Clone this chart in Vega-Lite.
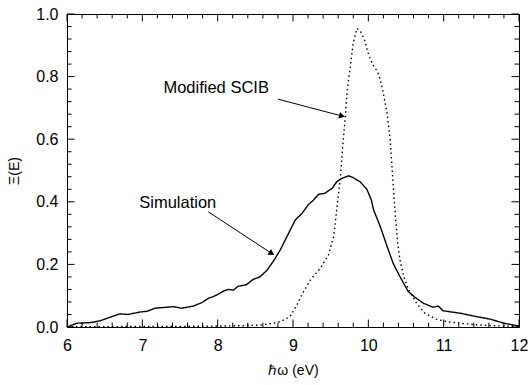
{
  "$schema": "https://vega.github.io/schema/vega-lite/v6.json",
  "width": 452,
  "height": 313,
  "autosize": {"type": "none"},
  "padding": {"left": 67, "top": 14, "right": 9, "bottom": 58},
  "config": {
    "font": "Liberation Sans",
    "view": {"stroke": "black", "strokeWidth": 1},
    "axis": {
      "grid": false,
      "domain": false,
      "ticks": false,
      "labelColor": "black",
      "titleColor": "black",
      "labelFontSize": 16,
      "titleFontSize": 14,
      "titleFontWeight": "normal",
      "labelFont": "Liberation Sans",
      "titleFont": "Liberation Sans"
    }
  },
  "datasets": {
    "curves": [
      {"series": "Simulation", "x": 6.0, "y": 0.0},
      {"series": "Simulation", "x": 6.13, "y": 0.012},
      {"series": "Simulation", "x": 6.31, "y": 0.014},
      {"series": "Simulation", "x": 6.44, "y": 0.02},
      {"series": "Simulation", "x": 6.57, "y": 0.031},
      {"series": "Simulation", "x": 6.7, "y": 0.042},
      {"series": "Simulation", "x": 6.81, "y": 0.04},
      {"series": "Simulation", "x": 6.97, "y": 0.048},
      {"series": "Simulation", "x": 7.06, "y": 0.05},
      {"series": "Simulation", "x": 7.17, "y": 0.06},
      {"series": "Simulation", "x": 7.41, "y": 0.065},
      {"series": "Simulation", "x": 7.52, "y": 0.06},
      {"series": "Simulation", "x": 7.68, "y": 0.067},
      {"series": "Simulation", "x": 7.79, "y": 0.078},
      {"series": "Simulation", "x": 7.88, "y": 0.092},
      {"series": "Simulation", "x": 7.94, "y": 0.097},
      {"series": "Simulation", "x": 8.01, "y": 0.105},
      {"series": "Simulation", "x": 8.08, "y": 0.115},
      {"series": "Simulation", "x": 8.14, "y": 0.12},
      {"series": "Simulation", "x": 8.21, "y": 0.118},
      {"series": "Simulation", "x": 8.27, "y": 0.13},
      {"series": "Simulation", "x": 8.38, "y": 0.135},
      {"series": "Simulation", "x": 8.47, "y": 0.152},
      {"series": "Simulation", "x": 8.56, "y": 0.16},
      {"series": "Simulation", "x": 8.65, "y": 0.18},
      {"series": "Simulation", "x": 8.74, "y": 0.21},
      {"series": "Simulation", "x": 8.83, "y": 0.246},
      {"series": "Simulation", "x": 8.92, "y": 0.289},
      {"series": "Simulation", "x": 9.03, "y": 0.342},
      {"series": "Simulation", "x": 9.12, "y": 0.363},
      {"series": "Simulation", "x": 9.2, "y": 0.39},
      {"series": "Simulation", "x": 9.27, "y": 0.405},
      {"series": "Simulation", "x": 9.34, "y": 0.424},
      {"series": "Simulation", "x": 9.42, "y": 0.427},
      {"series": "Simulation", "x": 9.52, "y": 0.443},
      {"series": "Simulation", "x": 9.58, "y": 0.464},
      {"series": "Simulation", "x": 9.65, "y": 0.475},
      {"series": "Simulation", "x": 9.74, "y": 0.483},
      {"series": "Simulation", "x": 9.8, "y": 0.477},
      {"series": "Simulation", "x": 9.89, "y": 0.464},
      {"series": "Simulation", "x": 9.98, "y": 0.44},
      {"series": "Simulation", "x": 10.04, "y": 0.406},
      {"series": "Simulation", "x": 10.07, "y": 0.374},
      {"series": "Simulation", "x": 10.16, "y": 0.32},
      {"series": "Simulation", "x": 10.25, "y": 0.257},
      {"series": "Simulation", "x": 10.33, "y": 0.203},
      {"series": "Simulation", "x": 10.42, "y": 0.161},
      {"series": "Simulation", "x": 10.53, "y": 0.113},
      {"series": "Simulation", "x": 10.62, "y": 0.095},
      {"series": "Simulation", "x": 10.73, "y": 0.076},
      {"series": "Simulation", "x": 10.86, "y": 0.063},
      {"series": "Simulation", "x": 10.93, "y": 0.067},
      {"series": "Simulation", "x": 10.99, "y": 0.052},
      {"series": "Simulation", "x": 11.22, "y": 0.044},
      {"series": "Simulation", "x": 11.44, "y": 0.033},
      {"series": "Simulation", "x": 11.62, "y": 0.025},
      {"series": "Simulation", "x": 11.8, "y": 0.012},
      {"series": "Simulation", "x": 12.0, "y": 0.003},
      {"series": "Modified SCIB", "x": 6.0, "y": 0.001},
      {"series": "Modified SCIB", "x": 6.5, "y": 0.001},
      {"series": "Modified SCIB", "x": 7.0, "y": 0.002},
      {"series": "Modified SCIB", "x": 7.5, "y": 0.002},
      {"series": "Modified SCIB", "x": 8.0, "y": 0.003},
      {"series": "Modified SCIB", "x": 8.3, "y": 0.004},
      {"series": "Modified SCIB", "x": 8.56, "y": 0.006},
      {"series": "Modified SCIB", "x": 8.74, "y": 0.012},
      {"series": "Modified SCIB", "x": 8.83, "y": 0.017},
      {"series": "Modified SCIB", "x": 8.96, "y": 0.033},
      {"series": "Modified SCIB", "x": 9.05, "y": 0.07},
      {"series": "Modified SCIB", "x": 9.14, "y": 0.113},
      {"series": "Modified SCIB", "x": 9.23, "y": 0.15},
      {"series": "Modified SCIB", "x": 9.36, "y": 0.187},
      {"series": "Modified SCIB", "x": 9.47, "y": 0.23},
      {"series": "Modified SCIB", "x": 9.54, "y": 0.289},
      {"series": "Modified SCIB", "x": 9.58, "y": 0.374},
      {"series": "Modified SCIB", "x": 9.63, "y": 0.48},
      {"series": "Modified SCIB", "x": 9.66, "y": 0.576},
      {"series": "Modified SCIB", "x": 9.69, "y": 0.661},
      {"series": "Modified SCIB", "x": 9.72, "y": 0.757},
      {"series": "Modified SCIB", "x": 9.76, "y": 0.832},
      {"series": "Modified SCIB", "x": 9.8, "y": 0.907},
      {"series": "Modified SCIB", "x": 9.85, "y": 0.954},
      {"series": "Modified SCIB", "x": 9.9, "y": 0.943},
      {"series": "Modified SCIB", "x": 9.95, "y": 0.917},
      {"series": "Modified SCIB", "x": 9.99, "y": 0.88},
      {"series": "Modified SCIB", "x": 10.05, "y": 0.842},
      {"series": "Modified SCIB", "x": 10.12, "y": 0.816},
      {"series": "Modified SCIB", "x": 10.16, "y": 0.789},
      {"series": "Modified SCIB", "x": 10.2, "y": 0.746},
      {"series": "Modified SCIB", "x": 10.25, "y": 0.681},
      {"series": "Modified SCIB", "x": 10.29, "y": 0.597},
      {"series": "Modified SCIB", "x": 10.32, "y": 0.491},
      {"series": "Modified SCIB", "x": 10.36, "y": 0.352},
      {"series": "Modified SCIB", "x": 10.39, "y": 0.267},
      {"series": "Modified SCIB", "x": 10.42, "y": 0.214},
      {"series": "Modified SCIB", "x": 10.47, "y": 0.161},
      {"series": "Modified SCIB", "x": 10.53, "y": 0.122},
      {"series": "Modified SCIB", "x": 10.64, "y": 0.076},
      {"series": "Modified SCIB", "x": 10.75, "y": 0.044},
      {"series": "Modified SCIB", "x": 10.9, "y": 0.025},
      {"series": "Modified SCIB", "x": 11.04, "y": 0.017},
      {"series": "Modified SCIB", "x": 11.22, "y": 0.012},
      {"series": "Modified SCIB", "x": 11.44, "y": 0.007},
      {"series": "Modified SCIB", "x": 11.66, "y": 0.004},
      {"series": "Modified SCIB", "x": 12.0, "y": 0.002}
    ],
    "arrows": [
      {"label": "Modified SCIB", "x": 8.8, "y": 0.728, "x2": 9.65, "y2": 0.674, "tx": 7.98, "ty": 0.764},
      {"label": "Simulation", "x": 7.876, "y": 0.368, "x2": 8.717, "y2": 0.235, "tx": 7.47, "ty": 0.396}
    ],
    "xticks": [
      {"v": 6, "kind": "major"}, {"v": 6.2, "kind": "minor"}, {"v": 6.4, "kind": "minor"}, {"v": 6.6, "kind": "minor"}, {"v": 6.8, "kind": "minor"},
      {"v": 7, "kind": "major"}, {"v": 7.2, "kind": "minor"}, {"v": 7.4, "kind": "minor"}, {"v": 7.6, "kind": "minor"}, {"v": 7.8, "kind": "minor"},
      {"v": 8, "kind": "major"}, {"v": 8.2, "kind": "minor"}, {"v": 8.4, "kind": "minor"}, {"v": 8.6, "kind": "minor"}, {"v": 8.8, "kind": "minor"},
      {"v": 9, "kind": "major"}, {"v": 9.2, "kind": "minor"}, {"v": 9.4, "kind": "minor"}, {"v": 9.6, "kind": "minor"}, {"v": 9.8, "kind": "minor"},
      {"v": 10, "kind": "major"}, {"v": 10.2, "kind": "minor"}, {"v": 10.4, "kind": "minor"}, {"v": 10.6, "kind": "minor"}, {"v": 10.8, "kind": "minor"},
      {"v": 11, "kind": "major"}, {"v": 11.2, "kind": "minor"}, {"v": 11.4, "kind": "minor"}, {"v": 11.6, "kind": "minor"}, {"v": 11.8, "kind": "minor"},
      {"v": 12, "kind": "major"}
    ],
    "yticks": [
      {"v": 0, "kind": "major"}, {"v": 0.04, "kind": "minor"}, {"v": 0.08, "kind": "minor"}, {"v": 0.12, "kind": "minor"}, {"v": 0.16, "kind": "minor"},
      {"v": 0.2, "kind": "major"}, {"v": 0.24, "kind": "minor"}, {"v": 0.28, "kind": "minor"}, {"v": 0.32, "kind": "minor"}, {"v": 0.36, "kind": "minor"},
      {"v": 0.4, "kind": "major"}, {"v": 0.44, "kind": "minor"}, {"v": 0.48, "kind": "minor"}, {"v": 0.52, "kind": "minor"}, {"v": 0.56, "kind": "minor"},
      {"v": 0.6, "kind": "major"}, {"v": 0.64, "kind": "minor"}, {"v": 0.68, "kind": "minor"}, {"v": 0.72, "kind": "minor"}, {"v": 0.76, "kind": "minor"},
      {"v": 0.8, "kind": "major"}, {"v": 0.84, "kind": "minor"}, {"v": 0.88, "kind": "minor"}, {"v": 0.92, "kind": "minor"}, {"v": 0.96, "kind": "minor"},
      {"v": 1.0, "kind": "major"}
    ]
  },
  "layer": [
    {
      "data": {"name": "curves"},
      "mark": {"type": "line", "color": "black", "strokeWidth": 1.4, "strokeCap": "butt"},
      "encoding": {
        "x": {
          "field": "x", "type": "quantitative",
          "scale": {"domain": [6, 12], "nice": false, "zero": false},
          "axis": {
            "orient": "bottom",
            "title": "ℏω (eV)",
            "values": [6, 7, 8, 9, 10, 11, 12],
            "format": "d",
            "labelPadding": 10,
            "labelFlush": false,
            "titlePadding": 10
          }
        },
        "y": {
          "field": "y", "type": "quantitative",
          "scale": {"domain": [0, 1], "nice": false},
          "axis": {
            "orient": "left",
            "title": "Ξ(E)",
            "values": [0, 0.2, 0.4, 0.6, 0.8, 1.0],
            "format": ".1f",
            "labelPadding": 9,
            "labelFlush": false,
            "titlePadding": 14
          }
        },
        "detail": {"field": "series"},
        "strokeDash": {
          "field": "series", "type": "nominal",
          "scale": {"domain": ["Simulation", "Modified SCIB"], "range": [[1, 0], [1.5, 3]]},
          "legend": null
        }
      }
    },
    {
      "data": {"name": "xticks"},
      "transform": [{"filter": "datum.kind === 'major'"}],
      "mark": {"type": "rule", "color": "black", "strokeWidth": 1},
      "encoding": {"x": {"field": "v", "type": "quantitative"}, "y": {"datum": 0, "type": "quantitative"}, "y2": {"datum": 0.024}}
    },
    {
      "data": {"name": "xticks"},
      "transform": [{"filter": "datum.kind === 'major'"}],
      "mark": {"type": "rule", "color": "black", "strokeWidth": 1},
      "encoding": {"x": {"field": "v", "type": "quantitative"}, "y": {"datum": 1, "type": "quantitative"}, "y2": {"datum": 0.976}}
    },
    {
      "data": {"name": "xticks"},
      "transform": [{"filter": "datum.kind === 'minor'"}],
      "mark": {"type": "rule", "color": "black", "strokeWidth": 1},
      "encoding": {"x": {"field": "v", "type": "quantitative"}, "y": {"datum": 0, "type": "quantitative"}, "y2": {"datum": 0.014}}
    },
    {
      "data": {"name": "xticks"},
      "transform": [{"filter": "datum.kind === 'minor'"}],
      "mark": {"type": "rule", "color": "black", "strokeWidth": 1},
      "encoding": {"x": {"field": "v", "type": "quantitative"}, "y": {"datum": 1, "type": "quantitative"}, "y2": {"datum": 0.986}}
    },
    {
      "data": {"name": "yticks"},
      "transform": [{"filter": "datum.kind === 'major'"}],
      "mark": {"type": "rule", "color": "black", "strokeWidth": 1},
      "encoding": {"y": {"field": "v", "type": "quantitative"}, "x": {"datum": 6, "type": "quantitative"}, "x2": {"datum": 6.1}}
    },
    {
      "data": {"name": "yticks"},
      "transform": [{"filter": "datum.kind === 'major'"}],
      "mark": {"type": "rule", "color": "black", "strokeWidth": 1},
      "encoding": {"y": {"field": "v", "type": "quantitative"}, "x": {"datum": 12, "type": "quantitative"}, "x2": {"datum": 11.9}}
    },
    {
      "data": {"name": "yticks"},
      "transform": [{"filter": "datum.kind === 'minor'"}],
      "mark": {"type": "rule", "color": "black", "strokeWidth": 1},
      "encoding": {"y": {"field": "v", "type": "quantitative"}, "x": {"datum": 6, "type": "quantitative"}, "x2": {"datum": 6.06}}
    },
    {
      "data": {"name": "yticks"},
      "transform": [{"filter": "datum.kind === 'minor'"}],
      "mark": {"type": "rule", "color": "black", "strokeWidth": 1},
      "encoding": {"y": {"field": "v", "type": "quantitative"}, "x": {"datum": 12, "type": "quantitative"}, "x2": {"datum": 11.94}}
    },
    {
      "data": {"name": "arrows"},
      "mark": {"type": "rule", "color": "black", "strokeWidth": 1},
      "encoding": {
        "x": {"field": "x", "type": "quantitative"},
        "y": {"field": "y", "type": "quantitative"},
        "x2": {"field": "x2"},
        "y2": {"field": "y2"}
      }
    },
    {
      "data": {"name": "arrows"},
      "transform": [{"filter": "datum.label === 'Modified SCIB'"}],
      "mark": {"type": "point", "shape": "triangle-right", "filled": true, "color": "black", "size": 45, "angle": 15, "opacity": 1},
      "encoding": {
        "x": {"field": "x2", "type": "quantitative"},
        "y": {"field": "y2", "type": "quantitative"}
      }
    },
    {
      "data": {"name": "arrows"},
      "transform": [{"filter": "datum.label === 'Simulation'"}],
      "mark": {"type": "point", "shape": "triangle-right", "filled": true, "color": "black", "size": 45, "angle": 33, "opacity": 1},
      "encoding": {
        "x": {"field": "x2", "type": "quantitative"},
        "y": {"field": "y2", "type": "quantitative"}
      }
    },
    {
      "data": {"name": "arrows"},
      "mark": {"type": "text", "color": "black", "fontSize": 16.5, "font": "Liberation Sans", "align": "center", "baseline": "middle"},
      "encoding": {
        "x": {"field": "tx", "type": "quantitative"},
        "y": {"field": "ty", "type": "quantitative"},
        "text": {"field": "label"}
      }
    }
  ]
}
